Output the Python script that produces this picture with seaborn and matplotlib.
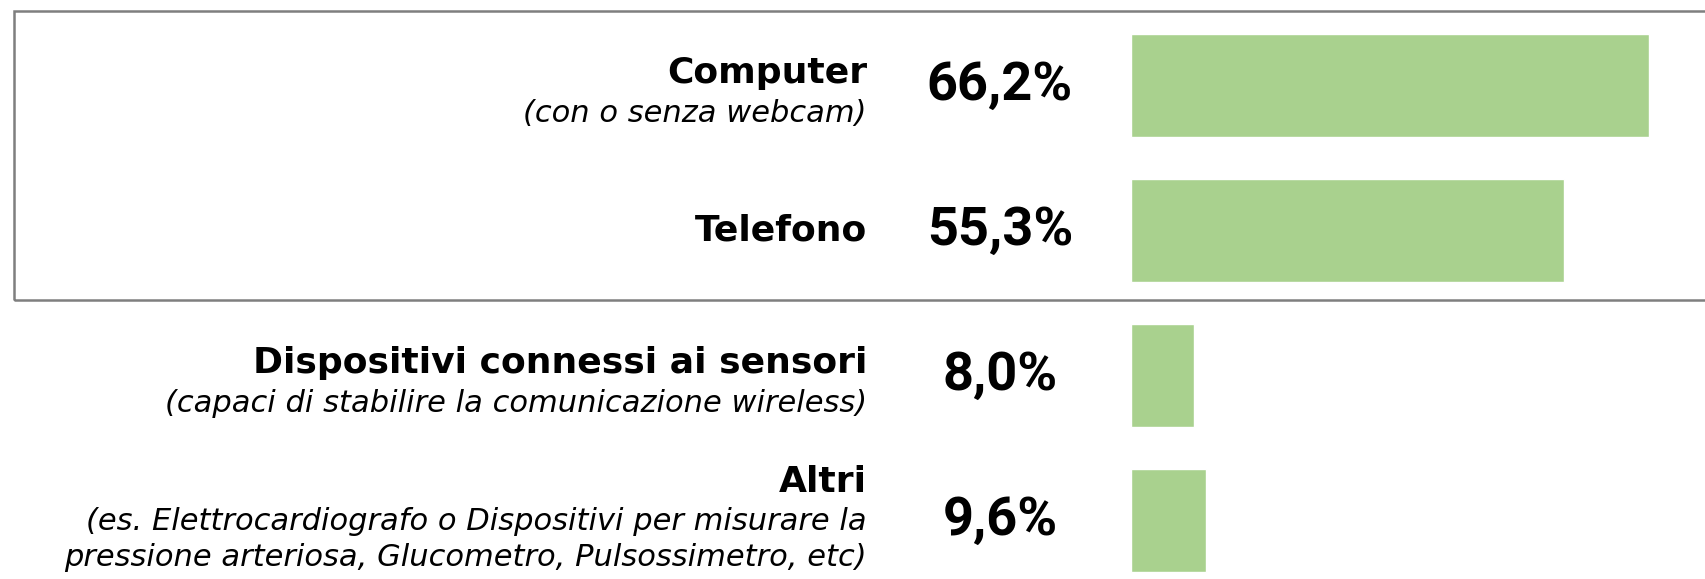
import numpy as np
import pandas as pd
import matplotlib.pyplot as plt
import matplotlib.transforms as mtransforms
from matplotlib.patches import Rectangle
import seaborn as sns

categories = ['Computer', 'Telefono', 'Dispositivi connessi ai sensori', 'Altri']
values = [66.2, 55.3, 8.0, 9.6]
subtitles = [
    ['(con o senza webcam)'],
    [],
    ['(capaci di stabilire la comunicazione wireless)'],
    ['(es. Elettrocardiografo o Dispositivi per misurare la',
     'pressione arteriosa, Glucometro, Pulsossimetro, etc)'],
]
value_labels = ['66,2%', '55,3%', '8,0%', '9,6%']

bar_color = '#A9D18E'
frame_color = '#7F7F7F'
title_font = ['DejaVu Sans']
value_font = ['Roboto', 'DejaVu Sans']

sns.set_theme(style='white')
plt.rcParams['font.family'] = title_font

W, H = 1706, 579
fig = plt.figure(figsize=(W / 100, H / 100), dpi=100)
fig.patch.set_facecolor('white')

# bar area: starts at x=1131 px, spans whole height
ax = fig.add_axes([1131 / W, 0, 1 - 1131 / W, 1])
df = pd.DataFrame({'cat': categories, 'val': values})
sns.barplot(data=df, x='val', y='cat', orient='h', color=bar_color,
            width=0.71, saturation=1, ax=ax)
px_per_unit = 7.825
ax.set_xlim(0, (W - 1131) / px_per_unit)
ax.set_ylim(3 + 58.5 / 145, -85.5 / 145)
ax.set_axis_off()

trans = mtransforms.blended_transform_factory(fig.transFigure, ax.transData)
label_x = 867 / W
value_x = 1000 / W

for i, (cat, subs, vl) in enumerate(zip(categories, subtitles, value_labels)):
    n = len(subs)
    if n == 0:
        ax.text(label_x, i, cat, transform=trans, ha='right', va='center',
                fontsize=26, fontweight='bold', family=title_font, color='black')
    else:
        # title baseline, then subtitle lines below
        if n == 1:
            y_title = i - 0.02
        else:
            y_title = i - 0.20
        ax.text(label_x, y_title, cat, transform=trans, ha='right', va='baseline',
                fontsize=26, fontweight='bold', family=title_font, color='black')
        for k, s in enumerate(subs):
            y_sub = y_title + (39 + 36 * k) / 145
            ax.text(label_x, y_sub, s, transform=trans, ha='right', va='baseline',
                    fontsize=22, fontstyle='italic', family=title_font, color='black')
    ax.text(value_x, i, vl, transform=trans, ha='center', va='center',
            fontsize=39, fontweight='bold', family=value_font, color='black')

# grey frame around the first two rows
frame = Rectangle((14 / W, 1 - 300 / H), 1.0, (300 - 11) / H,
                  transform=fig.transFigure, fill=False,
                  edgecolor=frame_color, linewidth=1.8, clip_on=False)
fig.patches.append(frame)

fig.savefig('out.png', dpi=100)
